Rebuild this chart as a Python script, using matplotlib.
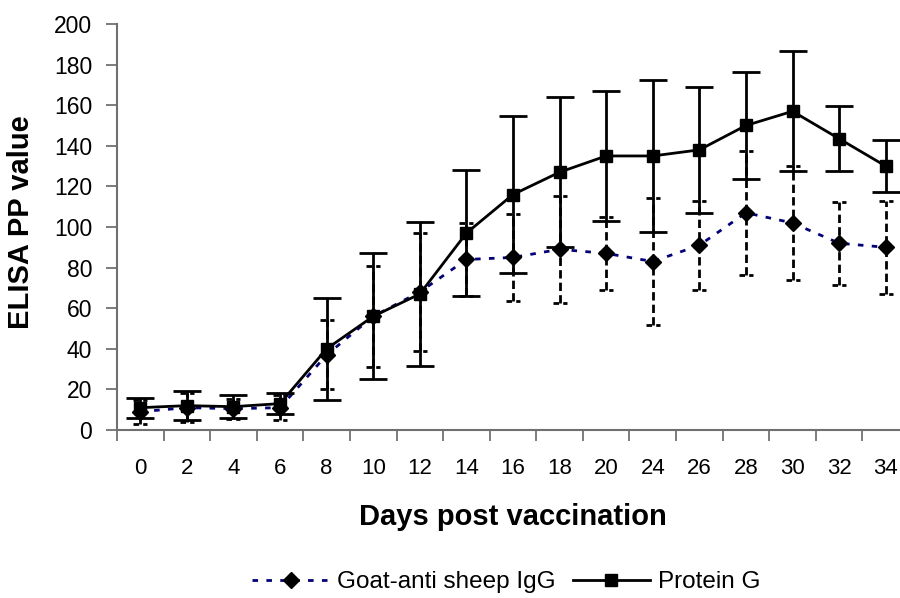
#!/usr/bin/env python3
"""ELISA PP value over days post vaccination (two detection reagents)."""

import matplotlib
matplotlib.use("Agg")
import matplotlib.pyplot as plt
import numpy as np

plt.rcParams["font.family"] = ["Liberation Sans", "DejaVu Sans"]

# データ
days = ["0", "2", "4", "6", "8", "10", "12", "14", "16", "18",
        "20", "24", "26", "28", "30", "32", "34"]

goat_mean = [9, 11, 10.5, 11, 37, 56, 68, 84, 85, 89,
             87, 83, 91, 107, 102, 92, 90]
goat_err = [6, 7, 5, 6, 17, 25, 29, 18, 21.5, 26.5,
            18, 31.5, 22, 30.5, 28, 20.5, 23]

protg_mean = [11, 12, 11.5, 13, 40, 56, 67, 97, 116, 127,
              135, 135, 138, 150, 157, 143.5, 130]
protg_err = [5, 7, 5.5, 5, 25, 31, 35.5, 31, 38.5, 37,
             32, 37.5, 31, 26.5, 29.5, 16, 13]

x = np.arange(len(days))

fig = plt.figure(figsize=(9, 5.98), dpi=100)
ax = fig.add_axes([117 / 900, 168 / 598, 792 / 900, 406 / 598])

# Goat-anti sheep IgG（破線の誤差棒）
eb1 = ax.errorbar(x, goat_mean, yerr=goat_err, fmt="none", ecolor="black",
                  elinewidth=2, capsize=0, zorder=2)
for coll in eb1[2]:
    coll.set_linestyle((0, (3, 1.5)))
# 破線のキャップ
for xi, m, e in zip(x, goat_mean, goat_err):
    for yv in (m - e, m + e):
        ax.plot([xi - 0.15, xi + 0.15], [yv, yv], color="black", lw=2,
                linestyle=(0, (2, 1.5)), zorder=2)
ax.plot(x, goat_mean, color="#000080", linestyle=(0, (2, 3)), linewidth=2,
        marker="D", markersize=8, markerfacecolor="black",
        markeredgecolor="black", zorder=3, label="Goat-anti sheep IgG")

# Protein G（実線）
ax.errorbar(x, protg_mean, yerr=protg_err, fmt="none", ecolor="black",
            elinewidth=2, capsize=10, capthick=2, zorder=4)
ax.plot(x, protg_mean, color="black", linestyle="-", linewidth=2,
        marker="s", markersize=8, markerfacecolor="black",
        markeredgecolor="black", zorder=5, label="Protein G")

ax.set_xlim(-0.5, len(days) - 0.5)
ax.set_ylim(0, 200)
ax.set_yticks(np.arange(0, 201, 20))
ax.set_xticks(x)
ax.set_xticklabels(days)
ax.set_xticks(np.arange(-0.5, len(days), 1), minor=True)
ax.tick_params(axis="x", which="major", length=0, labelsize=16, pad=20)
ax.tick_params(axis="x", which="minor", length=8, width=1.2, color="#666666")
ax.tick_params(axis="y", length=8, width=1.2, color="#666666", labelsize=16.5, pad=10)

for s in ("top", "right"):
    ax.spines[s].set_visible(False)
for s in ("left", "bottom"):
    ax.spines[s].set_color("#707070")
    ax.spines[s].set_linewidth(1.5)

fig.text(21 / 900, 1 - 222 / 598, "ELISA PP value", rotation=90, ha="center",
         va="center", fontsize=21, fontweight="bold")
fig.text(513 / 900, 1 - 525 / 598, "Days post vaccination", ha="center",
         va="baseline", fontsize=21, fontweight="bold")

handles, labels = ax.get_legend_handles_labels()
fig.legend(handles, labels, loc="center", bbox_to_anchor=(506 / 900, 1 - 582 / 598),
           ncol=2, frameon=False, fontsize=17.5, handlelength=3.2,
           columnspacing=0.7, handletextpad=0.3, borderpad=0.1)

fig.savefig("out.png", dpi=100)
